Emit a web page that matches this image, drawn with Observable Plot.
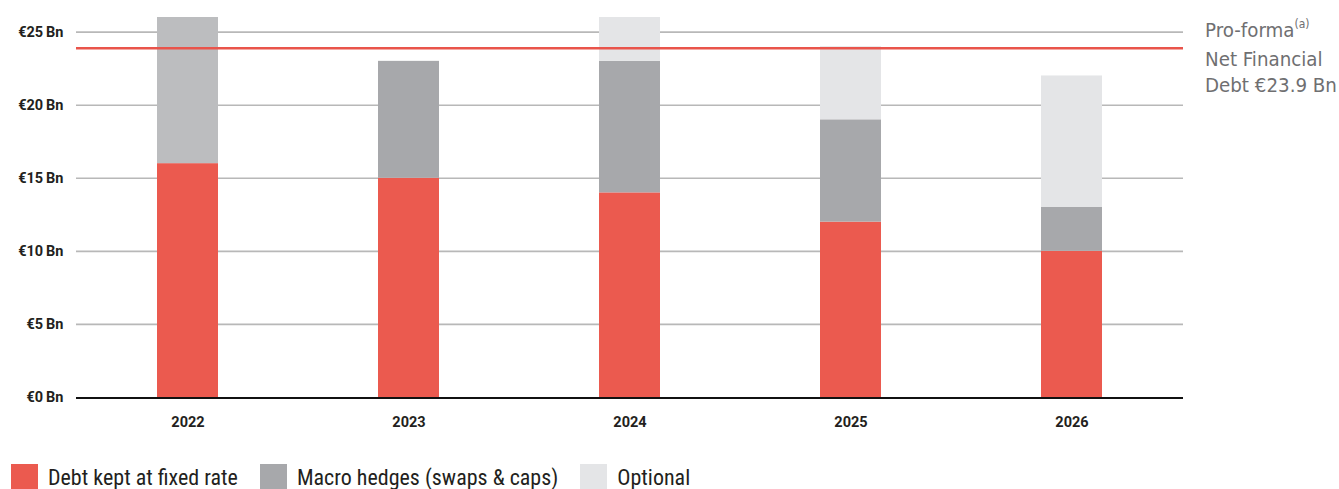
<!DOCTYPE html>
<html>
<head>
<meta charset="utf-8">
<script src="https://cdn.jsdelivr.net/npm/d3@7"></script>
<script src="https://cdn.jsdelivr.net/npm/@observablehq/plot@0.6"></script>
<style>
  html, body { margin: 0; padding: 0; background: #fff; }
  #wrap { position: relative; width: 1339px; height: 489px; overflow: hidden; }
  #note {
    position: absolute; left: 1205px; top: 17px;
    font-family: "DejaVu Sans Condensed", "DejaVu Sans", sans-serif;
    font-size: 20.3px; line-height: 26px; color: #6f6f71; white-space: nowrap;
  }
  #note sup { font-size: 12px; vertical-align: 0; position: relative; top: -9px; }
  #legend {
    position: absolute; left: 11px; top: 464px;
    display: flex; align-items: center; gap: 22px;
    font-family: "Roboto Condensed", "Liberation Sans Narrow", "DejaVu Sans Condensed", Roboto, sans-serif;
    font-size: 22px; color: #231f20;
  }
  #legend .item { display: flex; align-items: center; gap: 10px; }
  #legend .sw { width: 27px; height: 27px; }
</style>
</head>
<body>
<div id="wrap">
  <div id="chart"></div>
  <div id="note">Pro-forma<sup>(a)</sup><br>Net Financial<br>Debt €23.9 Bn</div>
  <div id="legend"></div>
</div>
<script>
// Hedging profile of net financial debt, in € billions
const years = ["2022", "2023", "2024", "2025", "2026"];
const seriesNames = ["Debt kept at fixed rate", "Macro hedges (swaps & caps)", "Optional"];
const fixedRate = [16, 15, 14, 12, 10];
const macroHedges = [10, 8, 9, 7, 3];
const optional = [0, 0, 3, 5, 9];
const netFinancialDebt = 23.9;
const yTicks = [0, 5, 10, 15, 20, 25];

const palette = {
  "Debt kept at fixed rate": "#eb5a4f",
  "Macro hedges (swaps & caps)": "#a7a8ab",
  "Optional": "#e4e5e7"
};
// the already-elapsed year shows its hedges in a lighter grey
const pastHedgeColor = "#bcbdbf";

const rows = [];
years.forEach((year, i) => {
  rows.push({year, series: seriesNames[0], value: fixedRate[i]});
  rows.push({year, series: seriesNames[1], value: macroHedges[i]});
  rows.push({year, series: seriesNames[2], value: optional[i]});
});

const chart = Plot.plot({
  width: 1339,
  height: 445,
  marginLeft: 76,
  marginRight: 156,
  marginTop: 17,
  marginBottom: 48,
  style: {fontFamily: "Roboto, sans-serif", fontSize: "14.5px", fontWeight: "bold", color: "#231f20", background: "#fff"},
  x: {domain: years, paddingInner: 0.724, paddingOuter: 0.366, label: null},
  y: {domain: [0, 26], label: null},
  color: {type: "identity"},
  marks: [
    Plot.ruleY(yTicks.filter(d => d > 0), {stroke: "#b8b8b8", strokeWidth: 1.6}),
    Plot.barY(rows, Plot.stackY({
      x: "year",
      y: "value",
      order: seriesNames,
      fill: d => (d.year === "2022" && d.series === seriesNames[1]) ? pastHedgeColor : palette[d.series]
    })),
    Plot.ruleY([0], {stroke: "#111", strokeWidth: 2.2, dy: 0.5}),
    Plot.ruleY([netFinancialDebt], {stroke: "#e9544b", strokeWidth: 2.6}),
    Plot.axisY({ticks: yTicks, tickSize: 0, tickPadding: 13, tickFormat: d => `€${d}\u2009Bn`, label: null}),
    Plot.axisX({tickSize: 0, tickPadding: 19, label: null})
  ]
});
document.getElementById("chart").appendChild(chart);

const legend = document.getElementById("legend");
seriesNames.forEach(name => {
  const item = document.createElement("div");
  item.className = "item";
  const sw = document.createElement("div");
  sw.className = "sw";
  sw.style.background = palette[name];
  const label = document.createElement("span");
  label.textContent = name;
  item.appendChild(sw);
  item.appendChild(label);
  legend.appendChild(item);
});
</script>
</body>
</html>
